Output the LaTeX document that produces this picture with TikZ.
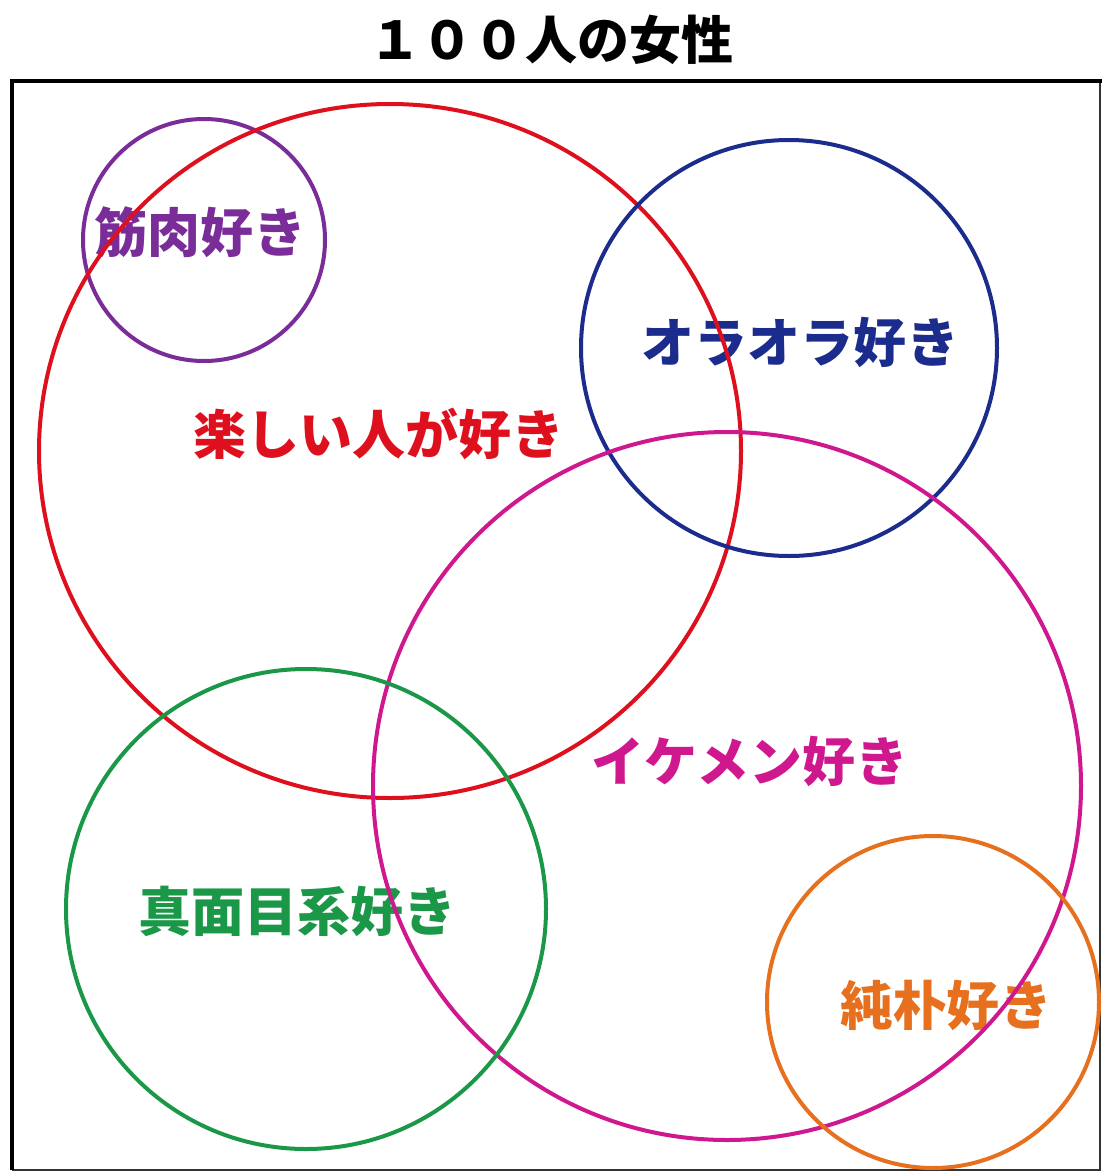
\documentclass[tikz,border=0pt]{standalone}
\usepackage{fontspec}
\newfontfamily\jp{Noto Sans CJK JP}
\definecolor{cpurple}{RGB}{122,44,152}
\definecolor{cred}{RGB}{222,16,30}
\definecolor{cnavy}{RGB}{28,44,140}
\definecolor{cmagenta}{RGB}{208,24,142}
\definecolor{cgreen}{RGB}{26,152,72}
\definecolor{corange}{RGB}{230,112,30}
\tikzset{
  ring/.style={line width=4pt},
  lbl/.style={font=\jp\bfseries\fontsize{53}{53}\selectfont, inner sep=0pt, anchor=center}
}
\begin{document}
\begin{tikzpicture}[x=1pt,y=-1pt]
\useasboundingbox (0,0) rectangle (1102,1173);
\fill[white] (0,0) rectangle (1102,1173);
% frame
\draw[black!80, line width=1.2pt] (1100,81) -- (1100,1170) -- (12,1170);
\draw[black, line width=3.2pt] (12,1170) -- (12,81) -- (1102,81);
% title
\node[lbl, font=\jp\bfseries\fontsize{52}{52}\selectfont, black] (title) at (551,40) {１００人の女性};
% labels
\node[lbl, text=cpurple] (tkin) at (200,232) {筋肉好き};
\node[lbl, text=cred] (ttano) at (379,434) {楽しい人が好き};
\node[lbl, text=cnavy] (tora) at (800,342) {オラオラ好き};
\node[lbl, text=cmagenta] (tike) at (750,761) {イケメン好き};
\node[lbl, text=cgreen] (tmaji) at (297,911) {真面目系好き};
\node[lbl, text=corange] (tjun) at (946,1005) {純朴好き};
% circles
\draw[ring, cpurple] (204,240) circle[radius=121];
\draw[ring, cred] (390,451) circle[x radius=351, y radius=347];
\draw[ring, cnavy] (789,348) circle[radius=208];
\draw[ring, cmagenta] (727,786) circle[radius=354];
\draw[ring, cgreen] (306,909) circle[radius=240];
\draw[ring, corange] (933,1002) circle[radius=166];
\end{tikzpicture}
\end{document}
